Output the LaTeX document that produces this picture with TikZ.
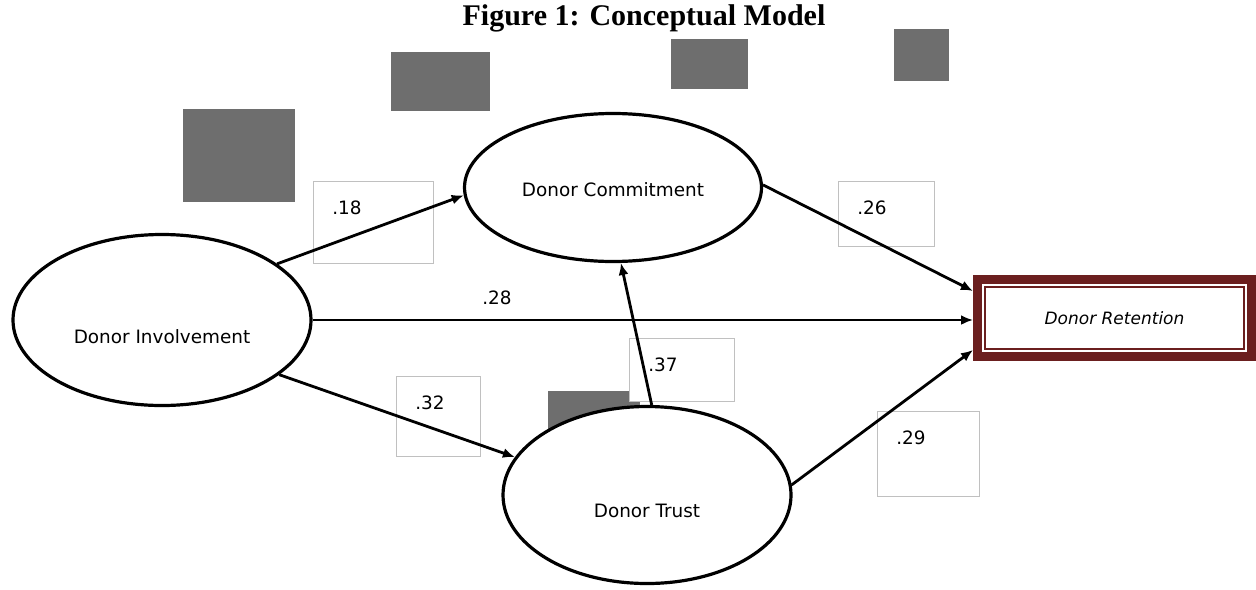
\documentclass[tikz,border=0pt]{standalone}
\usepackage{fontspec}
\setmainfont{Liberation Serif}
\newfontfamily\modelfont{DejaVu Sans}
\usetikzlibrary{arrows.meta,shapes.geometric}
\definecolor{Retain}{RGB}{107,31,31}
\definecolor{Shade}{RGB}{110,110,110}
\definecolor{BoxLine}{RGB}{192,192,192}
\newcommand{\CoefBox}[6]{% name, x, y, width, height, value
\node[coefbox,minimum width=#4,minimum height=#5] (#1) at (#2,#3) {};
\node[coeftxt] (#1t) at ([shift={(34,27)}]#1.north west) {#6};
}

\begin{document}
\begin{tikzpicture}[x=0.5pt,y=-0.5pt,
  latent/.style={ellipse,draw,line width=1.6pt,fill=white,inner sep=0pt},
  nodetxt/.style={font=\modelfont\fontsize{9.2}{11}\selectfont,inner sep=0pt},
  coefbox/.style={draw=BoxLine,line width=0.5pt,fill=white,anchor=north west,inner sep=0pt},
  coeftxt/.style={font=\modelfont\fontsize{9.2}{11}\selectfont,inner sep=0pt},
  retbox/.style={draw=Retain,line width=4.5pt,fill=white,minimum width=137pt,minimum height=38.5pt,
    font=\modelfont\itshape\fontsize{8.5}{10}\selectfont},
  link/.style={-{Latex[length=6pt,width=5pt]},line width=1.4pt}]
\useasboundingbox (0,0) rectangle (1256,589);
\node[font=\fontsize{15}{18}\selectfont\bfseries] (title) at (644,18) {Figure 1: Conceptual Model};

% grey patches
\fill[Shade] (183,109) rectangle (295,202);
\fill[Shade] (391,52) rectangle (490,111);
\fill[Shade] (671,39) rectangle (748,89);
\fill[Shade] (894,29) rectangle (949,81);
\fill[Shade] (548,391) rectangle (640,450);

% path coefficients
\CoefBox{b18}{313}{181}{60pt}{41pt}{.18}
\CoefBox{b26}{838}{181}{48pt}{32.5pt}{.26}
\CoefBox{b29}{877}{411}{51pt}{42.5pt}{.29}
\CoefBox{b32}{396}{376}{42pt}{40pt}{.32}
\CoefBox{b37}{629}{338}{52.5pt}{31.5pt}{.37}
\node[coeftxt] (c28) at (497,298) {.28};

% constructs
\node[latent,minimum width=149pt,minimum height=85.5pt] (inv) at (162,320) {};
\node[latent,minimum width=148.5pt,minimum height=74pt] (com) at (613,187.5) {};
\node[latent,minimum width=144pt,minimum height=88.5pt] (trust) at (647,495) {};
\node[nodetxt] (invt) at ([shift={(0,17)}]inv) {Donor Involvement};
\node[nodetxt] (comt) at ([shift={(0,2.5)}]com) {Donor Commitment};
\node[nodetxt] (trustt) at ([shift={(0,16)}]trust) {Donor Trust};

\node[retbox] (ret) at (1114.5,318) {Donor Retention};
\draw[Retain,line width=0.8pt] ([shift={(12,12)}]ret.north west) rectangle ([shift={(-12,-12)}]ret.south east);

% arrows
\draw[link] (inv.26) -- (com.183);
\draw[link] (inv.east) -- (inv.east -| ret.west);
\draw[link] (inv.-25) -- (trust.164);
\draw[link] (trust.87) -- (com.-84);
\draw[link] (com.1) -- ([shift={(0,-27)}]ret.west);
\draw[link] (trust.4) -- ([shift={(0,32)}]ret.west);
\end{tikzpicture}
\end{document}
